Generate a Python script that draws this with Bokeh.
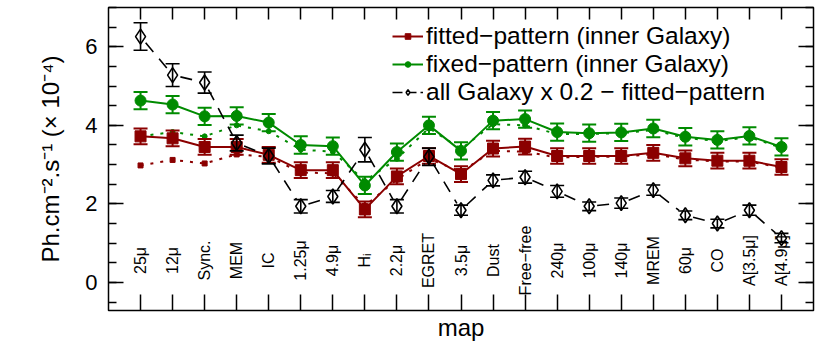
import numpy as np
from bokeh.plotting import figure
from bokeh.models import (ColumnDataSource, FixedTicker, SingleIntervalTicker, LinearAxis,
                          Legend, LegendItem, Range1d)
from bokeh.core.properties import value
from bokeh.embed import file_html
from bokeh.resources import INLINE

# ---------------- data ----------------
maps = ["25μ", "12μ", "Sync.", "MEM", "IC", "1.25μ", "4.9μ", "Hᵢ", "2.2μ", "EGRET",
        "3.5μ", "Dust", "Free−free", "240μ", "100μ", "140μ", "MREM", "60μ", "CO",
        "A[3.5μ]", "A[4.9μ]"]

fitted = [3.72, 3.67, 3.45, 3.45, 3.25, 2.86, 2.86, 1.86, 2.70, 3.22,
          2.76, 3.41, 3.46, 3.22, 3.22, 3.22, 3.30, 3.16, 3.10, 3.10, 2.94]
fitted_err = [0.20] * 21
fitted_alt = [2.98, 3.12, 3.03, 3.26, 3.20, 2.80, 2.78, 1.95, 2.62, 3.15,
              2.82, 3.35, 3.33, 3.18, 3.20, 3.20, 3.27, 3.13, 3.08, 3.08, 2.92]

fixed = [4.63, 4.53, 4.23, 4.24, 4.07, 3.50, 3.47, 2.47, 3.32, 4.00,
         3.35, 4.12, 4.16, 3.83, 3.80, 3.82, 3.92, 3.71, 3.63, 3.73, 3.45]
fixed_err = [0.22] * 21
fixed_alt = [3.72, 3.83, 3.72, 4.00, 3.85, 3.38, 3.33, 2.58, 3.15, 3.93,
             3.40, 4.03, 4.00, 3.78, 3.78, 3.80, 3.88, 3.68, 3.60, 3.70, 3.43]

allgal = [6.26, 5.28, 5.09, 3.55, 3.22, 1.94, 2.19, 3.38, 1.94, 3.20,
          1.84, 2.60, 2.68, 2.32, 1.94, 2.02, 2.35, 1.71, 1.50, 1.84, 1.13]
allgal_err = [0.35, 0.29, 0.27, 0.20, 0.20, 0.17, 0.15, 0.31, 0.17, 0.22,
              0.13, 0.14, 0.15, 0.15, 0.11, 0.13, 0.13, 0.11, 0.11, 0.13, 0.12]

y_ticks_major = 2
legend_labels = ["fitted−pattern (inner Galaxy)", "fixed−pattern (inner Galaxy)",
                 "all Galaxy x 0.2 − fitted−pattern"]

RED = "#8B0000"
GREEN = "#008B00"
BLACK = "#000000"
FONT = "Liberation Sans"

xpos = np.arange(1, len(maps) + 1, dtype=float)
Y0, Y1 = -0.713, 7.0
FW, FH = 705, 303

W, H = 830, 356
p = figure(width=W, height=H, output_backend="svg", toolbar_location=None,
           x_range=Range1d(0, 22), y_range=Range1d(Y0, Y1),
           min_border_left=108, min_border_right=W - 108 - FW, min_border_top=7,
           min_border_bottom=H - 7 - FH)
p.grid.visible = False
p.outline_line_color = "black"
p.outline_line_width = 1.5
p.background_fill_color = "white"
p.border_fill_color = "white"

# ---------------- axes ----------------
def style_common(ax):
    ax.axis_line_color = None
    ax.major_tick_out = 0
    ax.minor_tick_out = 0
    ax.major_tick_line_width = 1.5
    ax.minor_tick_line_width = 1.5
    ax.major_tick_line_color = "black"
    ax.minor_tick_line_color = "black"

def style_y(ax, labels=True):
    ax.ticker = SingleIntervalTicker(interval=y_ticks_major, num_minor_ticks=4)
    style_common(ax)
    ax.major_tick_in = 15
    ax.minor_tick_in = 8
    if labels:
        ax.major_label_text_font = FONT
        ax.major_label_text_font_size = "22px"
        ax.major_label_text_color = "black"
        ax.major_label_standoff = 11
    else:
        ax.major_label_overrides = {t: "" for t in range(-2, 10, 2)}
        ax.major_label_standoff = 0

def style_x(ax, tick_len):
    ax.ticker = FixedTicker(ticks=list(xpos), minor_ticks=[])
    style_common(ax)
    ax.major_tick_in = tick_len
    ax.minor_tick_in = 0
    ax.major_label_overrides = {float(t): "" for t in xpos}
    ax.major_label_standoff = 0

yl = p.yaxis[0]
style_y(yl)
yl.axis_label = "Ph.cm⁻².s⁻¹ (× 10⁻⁴)"
yl.axis_label_text_font = FONT
yl.axis_label_text_font_size = "24px"
yl.axis_label_text_font_style = "normal"
yl.axis_label_text_color = "black"
yl.axis_label_standoff = 18

yr = LinearAxis()
style_y(yr, labels=False)
p.add_layout(yr, "right")

xb = p.xaxis[0]
style_x(xb, 16)
xb.axis_label = "map"
xb.axis_label_text_font = FONT
xb.axis_label_text_font_size = "24px"
xb.axis_label_text_font_style = "normal"
xb.axis_label_text_color = "black"
xb.axis_label_standoff = 3

xt = LinearAxis()
style_x(xt, 12)
p.add_layout(xt, "above")

# ---------------- category labels inside the plot ----------------
lab_src = ColumnDataSource(dict(x=xpos, y=[0.56] * len(maps), t=maps))
p.text(x="x", y="y", text="t", source=lab_src, angle=np.pi / 2,
       text_align="center", text_baseline="middle",
       text_font=value(FONT), text_font_size="16px", text_color="black")

# ---------------- dotted (alternative) series ----------------
p.line(xpos, fitted_alt, line_color=RED, line_width=2, line_dash="3 7")
p.scatter(xpos, fitted_alt, marker="square", size=5, color=RED)
p.line(xpos, fixed_alt, line_color=GREEN, line_width=2, line_dash="3 7")
p.scatter(xpos, fixed_alt, marker="circle", size=5, color=GREEN)

# ---------------- error bars helper ----------------
def errbars(vals, errs, color, lw=1.5, cap=14):
    v = np.array(vals)
    e = np.array(errs)
    p.segment(x0=xpos, y0=v - e, x1=xpos, y1=v + e, line_color=color, line_width=lw)
    p.scatter(np.concatenate([xpos, xpos]), np.concatenate([v - e, v + e]),
              marker="dash", size=cap, line_color=color, line_width=lw)

# fitted (red)
p.line(xpos, fitted, line_color=RED, line_width=2)
errbars(fitted, fitted_err, RED, lw=2)
p.scatter(xpos, fitted, marker="square", size=11, color=RED)

# fixed (green)
p.line(xpos, fixed, line_color=GREEN, line_width=2)
errbars(fixed, fixed_err, GREEN, lw=2)
p.scatter(xpos, fixed, marker="circle", size=11, color=GREEN)

# all Galaxy (black), dashed segments with gaps around the points
PXX = FW / 22.0
PXY = FH / (Y1 - Y0)
gap = 8.0
ag = np.array(allgal)
x0s, y0s, x1s, y1s = [], [], [], []
for i in range(len(ag) - 1):
    dxp = (xpos[i + 1] - xpos[i]) * PXX
    dyp = (ag[i + 1] - ag[i]) * PXY
    L = np.hypot(dxp, dyp)
    if L <= 2 * gap:
        continue
    f = gap / L
    x0s.append(xpos[i] + f * (xpos[i + 1] - xpos[i]))
    y0s.append(ag[i] + f * (ag[i + 1] - ag[i]))
    x1s.append(xpos[i + 1] - f * (xpos[i + 1] - xpos[i]))
    y1s.append(ag[i + 1] - f * (ag[i + 1] - ag[i]))
p.segment(x0=x0s, y0=y0s, x1=x1s, y1=y1s, line_color=BLACK, line_width=1.6, line_dash="12 9")
errbars(allgal, allgal_err, BLACK, lw=1.6)
p.scatter(xpos, allgal, marker="diamond", size=15, fill_color=None, line_color=BLACK, line_width=1.6)

# ---------------- legend (sample glyphs only) ----------------
nan_src = ColumnDataSource(dict(x=[np.nan], y=[np.nan]))
r1l = p.line("x", "y", source=nan_src, line_color=RED, line_width=2)
r1s = p.scatter("x", "y", source=nan_src, marker="square", size=6, color=RED)
r2l = p.line("x", "y", source=nan_src, line_color=GREEN, line_width=2)
r2s = p.scatter("x", "y", source=nan_src, marker="circle", size=6, color=GREEN)
r3l = p.line("x", "y", source=nan_src, line_color=BLACK, line_width=1.6, line_dash="10 4")
r3s = p.scatter("x", "y", source=nan_src, marker="diamond", size=8, fill_color="white",
                line_color=BLACK, line_width=1.5)

legend = Legend(items=[LegendItem(label=legend_labels[0], renderers=[r1l, r1s]),
                       LegendItem(label=legend_labels[1], renderers=[r2l, r2s]),
                       LegendItem(label=legend_labels[2], renderers=[r3l, r3s])],
                location=(284, 204))
legend.label_text_font = FONT
legend.label_text_font_size = "24.5px"
legend.label_text_color = "black"
legend.border_line_color = None
legend.background_fill_alpha = 0
legend.padding = 0
legend.margin = 0
legend.spacing = 0
legend.glyph_width = 31
legend.glyph_height = 14
legend.label_height = 28
legend.label_standoff = 3
p.add_layout(legend, "center")

open("out.html", "w").write(file_html(p, INLINE))
